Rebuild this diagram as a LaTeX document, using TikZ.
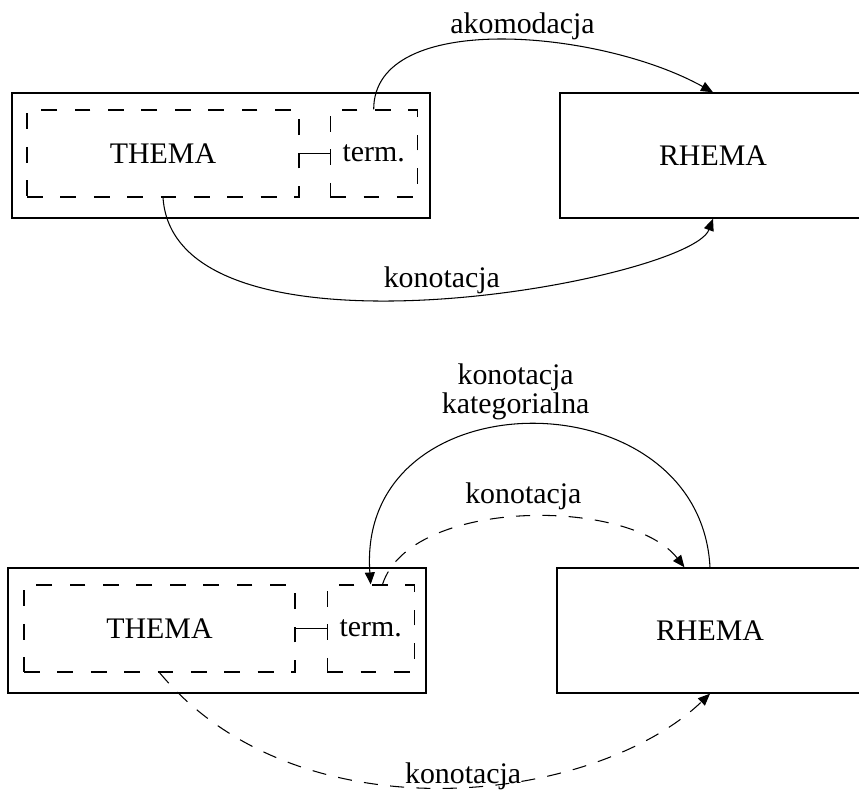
\documentclass[tikz,border=0pt]{standalone}
\usepackage{fontspec}
\setmainfont{Liberation Serif}
\usepackage{tikz}
\usetikzlibrary{positioning, arrows.meta}
\newcommand{\diagfont}{\fontsize{17}{16.5}\selectfont}

\begin{document}
\begin{tikzpicture}[
  x=0.02cm, y=0.02cm,
  outerbox/.style={
    rectangle, draw, line width=0.8pt,
    minimum width=8.36cm, minimum height=2.5cm
  },
  dashbox/.style={
    rectangle, draw, line width=0.7pt, dash pattern=on 9pt off 10pt,
    minimum height=1.74cm, font=\diagfont, inner sep=0pt
  },
  rhemabox/.style={
    rectangle, draw, line width=0.8pt,
    minimum width=6.12cm, minimum height=2.5cm, font=\diagfont
  },
  lbl/.style={font=\diagfont, inner sep=0pt, align=center},
  arr/.style={-{Triangle[length=0.24cm, width=0.2cm]}, line width=0.6pt},
  darr/.style={arr, dash pattern=on 8pt off 7pt},
]
\useasboundingbox (0,0) rectangle (859,795);
\clip (0,0) rectangle (859,795);

% Gorny schemat
\node[outerbox] (outer1) at (221,639.5) {};
\node[dashbox, minimum width=5.44cm] (thema1) at (163,641.5) {THEMA};
\node[dashbox, minimum width=1.74cm, right=0.6cm of thema1] (term1) {term.};
\node[rhemabox] (rhema1) at (713,639.5) {RHEMA};

\draw[line width=0.6pt] (thema1) -- (term1);
\draw[arr] (term1.north) .. controls +(0,100) and +(-113,63) .. (rhema1.north)
  node[lbl, pos=.55, above=0pt] {akomodacja};
\draw[arr] (thema1.south) .. controls +(12,-178) and +(-23,-62) .. (rhema1.south)
  node[lbl, pos=.51, above=2pt] {konotacja};

% Dolny schemat
\node[outerbox] (outer2) at (217,164.5) {};
\node[dashbox, minimum width=5.42cm] (thema2) at (159.5,166.5) {THEMA};
\node[dashbox, minimum width=1.74cm, right=0.62cm of thema2] (term2) {term.};
\node[rhemabox] (rhema2) at (710,164.5) {RHEMA};

\draw[line width=0.6pt] (thema2) -- (term2);
\draw[arr] (rhema2.north) .. controls +(-10,193) and +(-15,210) .. (term2.north)
  node[lbl, pos=.53, above=3pt] {konotacja\\kategorialna};
\draw[darr] (term2.75) .. controls +(28,87) and +(-55,70) .. (rhema2.112)
  node[lbl, pos=.5, above=4pt] {konotacja};
\draw[darr] (thema2.south) .. controls +(140,-168) and +(-115,-110) .. (rhema2.south)
  node[lbl, pos=.53, above=-2pt] {konotacja};

\end{tikzpicture}
\end{document}
